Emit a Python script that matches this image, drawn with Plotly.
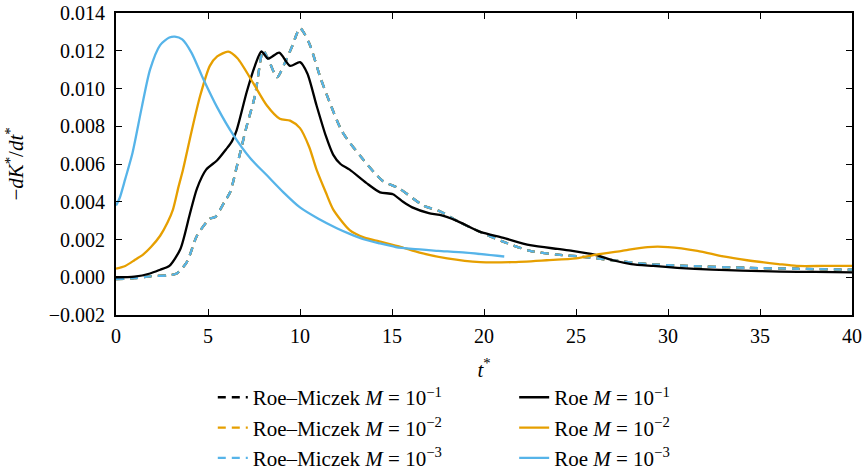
import plotly.graph_objects as go

# ---------------- data ----------------
t_rm = [0, 1, 1.85, 2.8, 3.3, 3.85, 4.4, 5.1, 5.4, 5.9, 6.2, 6.6, 7.1, 7.55, 8.0, 8.3, 8.75, 9.2, 9.6, 10.0,
        10.5, 11.1, 11.6, 12.3, 13.3, 14.5, 15.4, 16.7, 17.6, 18.7, 19.8, 21, 22.5, 24, 25.2, 27, 28.9, 31,
        34.3, 37, 40]
y_rm = [-0.0001, -0.00005, 0.00005, 0.0001, 0.0002, 0.0008, 0.0022, 0.0031, 0.0032, 0.0040,
        0.0045, 0.0060, 0.0080, 0.0096, 0.0120, 0.0115, 0.0106, 0.0114, 0.0123, 0.0132,
        0.0124, 0.0106, 0.0093, 0.0077, 0.0064, 0.0051, 0.0047, 0.0038, 0.0035, 0.0029,
        0.0024, 0.0019, 0.0014, 0.0012, 0.0011, 0.0009, 0.0007, 0.0006, 0.0005, 0.00045, 0.0004]

t_roe1 = [0, 1, 1.85, 2.4, 2.9, 3.5, 4.0, 4.4, 4.9, 5.5, 6.0, 6.3, 6.56, 7.1, 7.55, 7.9, 8.27, 8.87, 9.46, 10,
          10.4, 10.9, 11.4, 11.8, 12.2, 12.7, 13.6, 14.35, 15.05, 15.6, 16.1, 17.0, 17.6, 18.5, 19.8, 21, 22.5,
          24, 24.8, 26, 27, 28, 29.2, 30.5, 32.4, 34, 36.1, 38, 40]
y_roe1 = [0.0, 0.00003, 0.0002, 0.0004, 0.0006, 0.0015, 0.0033, 0.0047, 0.0057, 0.0062,
          0.0068, 0.0072, 0.0078, 0.0098, 0.0112, 0.01196, 0.01158, 0.0119, 0.0112, 0.0114,
          0.0108, 0.0091, 0.0075, 0.0065, 0.0060, 0.0057, 0.0050, 0.0045, 0.0044, 0.0040,
          0.0037, 0.0034, 0.0033, 0.0030, 0.0024, 0.0021, 0.0017, 0.0015, 0.0014, 0.0012,
          0.0009, 0.0007, 0.0006, 0.0005, 0.0004, 0.00035, 0.0003, 0.00028, 0.00026]

t_roe2 = [0, 0.5, 1, 1.47, 1.9, 2.4, 2.8, 3.1, 3.4, 3.64, 4.1, 4.57, 5.1, 5.5, 6.1, 6.6, 7.45, 8.2, 8.9, 9.46,
          10, 10.5, 10.9, 11.4, 11.8, 12.7, 13.5, 14.3, 15.5, 16.5, 18, 19.8, 21.5, 23.4, 25, 26.1, 27.5, 28.9,
          30, 31.6, 33, 34.3, 36, 37, 38.5, 40]
y_roe2 = [0.00045, 0.0006, 0.0009, 0.0012, 0.0016, 0.0022, 0.0029, 0.0036, 0.0048, 0.0057,
          0.0077, 0.0096, 0.0112, 0.0117, 0.01195, 0.0116, 0.0103, 0.0091, 0.0084, 0.0083,
          0.0079, 0.0069, 0.0057, 0.0045, 0.0036, 0.0025, 0.0021, 0.0019, 0.0016, 0.0013,
          0.0010, 0.0008, 0.0008, 0.0009, 0.0010, 0.0012, 0.0014, 0.0016, 0.0016, 0.0014,
          0.0011, 0.0009, 0.0007, 0.0006, 0.0006, 0.0006]

t_roe3 = [0, 0.2, 0.5, 0.9, 1.4, 1.85, 2.4, 2.9, 3.2, 3.6, 4.1, 4.7, 5.5, 6.4, 7.3, 8.2, 9.1, 10, 11, 12,
          12.7, 13.5, 14.3, 15.2, 16.1, 17.5, 19, 21.1]
y_roe3 = [0.0038, 0.0042, 0.0052, 0.0066, 0.0090, 0.0110, 0.0123, 0.0127, 0.01275, 0.0126, 0.0119, 0.0106,
          0.0090, 0.0075, 0.0063, 0.0054, 0.0045, 0.0037, 0.0031, 0.0026, 0.0023, 0.0020, 0.0018, 0.0016,
          0.0015, 0.0014, 0.0013, 0.0011]

x_ticks = [0, 5, 10, 15, 20, 25, 30, 35, 40]
y_ticks = [-0.002, 0.0, 0.002, 0.004, 0.006, 0.008, 0.010, 0.012, 0.014]

BLACK = "#000000"
ORANGE = "#E69F00"
BLUE = "#56B4E9"
FONT = "Liberation Serif"
LW = 2.3

fig = go.Figure()

dash_series = [
    ("Roe–Miczek <i>M</i> = 10<sup>−1</sup>", BLACK),
    ("Roe–Miczek <i>M</i> = 10<sup>−2</sup>", ORANGE),
    ("Roe–Miczek <i>M</i> = 10<sup>−3</sup>", BLUE),
]
for name, col in dash_series:
    fig.add_trace(go.Scatter(x=t_rm, y=y_rm, mode="lines", name=name, legend="legend",
                             line=dict(color=col, width=LW, dash="8px,6px", shape="spline", smoothing=0.7)))

solid_series = [
    ("Roe <i>M</i> = 10<sup>−1</sup>", BLACK, t_roe1, y_roe1),
    ("Roe <i>M</i> = 10<sup>−2</sup>", ORANGE, t_roe2, y_roe2),
    ("Roe <i>M</i> = 10<sup>−3</sup>", BLUE, t_roe3, y_roe3),
]
for name, col, tx, ty in solid_series:
    fig.add_trace(go.Scatter(x=tx, y=ty, mode="lines", name=name, legend="legend2",
                             line=dict(color=col, width=LW, shape="spline", smoothing=0.7)))

axis_common = dict(showline=True, linewidth=2, linecolor="black", mirror="allticks",
                   ticks="inside", ticklen=6, tickwidth=1, tickcolor="black",
                   showgrid=False, zeroline=False, automargin=False,
                   tickfont=dict(family=FONT, size=20, color="black"))

fig.update_xaxes(range=[0, 40], tickvals=x_ticks, ticktext=[str(v) for v in x_ticks],
                 ticklabelstandoff=2,
                 title=dict(text="<i>t</i><sup>*</sup>", font=dict(family=FONT, size=21, color="black"), standoff=16),
                 **axis_common)
fig.update_yaxes(range=[-0.002, 0.014], tickvals=y_ticks, tickformat=".3f",
                 ticklabelstandoff=5,
                 title=dict(text="−<i>dK</i><sup>*</sup>/<i>dt</i><sup>*</sup>", font=dict(family=FONT, size=21, color="black"), standoff=19),
                 **axis_common)

# figure is a little taller than the window so the legend below never pushes the plot margins
leg_common = dict(font=dict(family=FONT, size=21, color="black"), bgcolor="rgba(0,0,0,0)",
                  yanchor="bottom", xanchor="left", orientation="v", tracegroupgap=0)
fig.update_layout(
    width=864, height=490,
    margin=dict(l=116, r=12, t=13, b=173),
    paper_bgcolor="white", plot_bgcolor="white",
    showlegend=True,
    legend=dict(x=0.1315, y=-0.54, **leg_common),
    legend2=dict(x=0.541, y=-0.54, **leg_common),
)

fig.write_html("out.html",
               config={"displayModeBar": False},
               post_script="document.body.style.margin='0';document.body.style.overflow='hidden';")
